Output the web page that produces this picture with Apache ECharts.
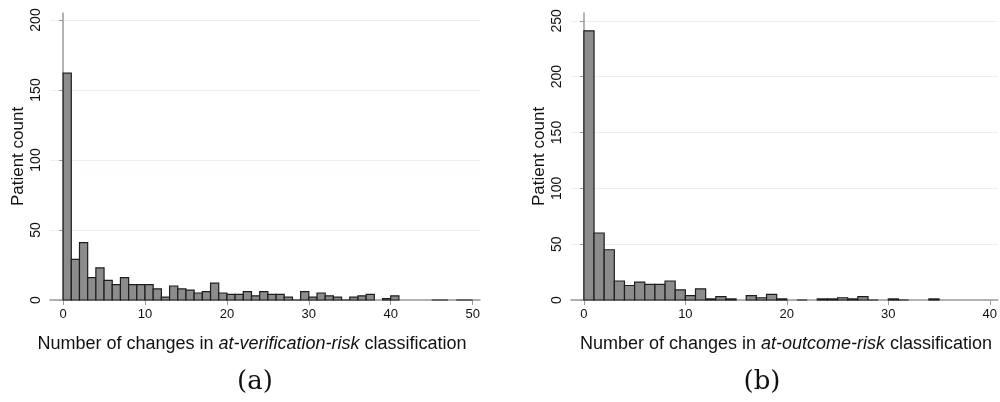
<!DOCTYPE html>
<html>
<head>
<meta charset="utf-8">
<script src="https://cdn.jsdelivr.net/npm/echarts@6/dist/echarts.min.js"></script>
<style>
  html, body { margin: 0; padding: 0; background: #fff; }
  #chart { width: 1000px; height: 402px; }
</style>
</head>
<body>
<div id="chart"></div>
<script>
// counts per number of changes (index = changes); null = no bar, 0 = empty bar outline
var verifCounts = [162, 29, 41, 16, 23, 14, 11, 16, 11, 11,
  11, 8, 2, 10, 8, 7, 5, 6, 12, 5,
  4, 4, 6, 3, 6, 4, 4, 2, 0, 6,
  2, 5, 3, 2, 0, 2, 3, 4, null, 1,
  3, null, null, null, null, 0, 0, null, 0, 0];
var outcomeCounts = [241, 60, 45, 17, 13, 16, 14, 14, 17, 9,
  4, 10, 1, 3, 1, null, 4, 2, 5, 1,
  null, 0, null, 1, 1, 2, 1, 3, 0, null,
  1, 0, null, null, 1];

var verifXTicks = [0, 10, 20, 30, 40, 50];
var outcomeXTicks = [0, 10, 20, 30, 40];
var verifYTicks = [0, 50, 100, 150, 200];
var outcomeYTicks = [0, 50, 100, 150, 200, 250];

function toBins(arr) {
  var out = [];
  arr.forEach(function (v, i) {
    if (v !== null) out.push([i, v]);
  });
  return out;
}

function renderBin(params, api) {
  var k = api.value(0);
  var p0 = api.coord([k, api.value(1)]);
  var p1 = api.coord([k + 1, 0]);
  return {
    type: 'rect',
    shape: { x: p0[0], y: p0[1], width: p1[0] - p0[0], height: p1[1] - p0[1] },
    style: { fill: '#8c8c8c', stroke: '#1e1e1e', lineWidth: 1.2 }
  };
}

var font = 'Liberation Sans, Arial, sans-serif';
var axisGray = '#9a9a9a';
var labelFont = { color: '#111', fontSize: 13, fontFamily: font };

function xAxisFor(idx, min, max, ticks) {
  return {
    type: 'value', gridIndex: idx, min: min, max: max,
    axisLine: { show: true, lineStyle: { color: axisGray, width: 1.5 } },
    axisTick: { show: true, length: 5, lineStyle: { color: axisGray }, customValues: ticks },
    axisLabel: Object.assign({ margin: 8, customValues: ticks }, labelFont),
    splitLine: { show: false }
  };
}

function yAxisFor(idx, max, ticks) {
  return {
    type: 'value', gridIndex: idx, min: 0, max: max,
    name: 'Patient count', nameLocation: 'middle', nameGap: 23, nameMoveOverlap: false,
    nameTextStyle: { color: '#111', fontSize: 17, fontFamily: font },
    axisLine: { show: true, lineStyle: { color: axisGray, width: 1.5 } },
    axisTick: { show: true, length: 4, lineStyle: { color: axisGray }, customValues: ticks },
    axisLabel: Object.assign({ margin: 7, rotate: 90, customValues: ticks }, labelFont, { fontSize: 14 }),
    splitLine: { show: true, lineStyle: { color: '#eaf1f1', width: 1 } }
  };
}

function axisTitle(x, italicPart) {
  return {
    left: x, top: 330, textAlign: 'center',
    text: '{n|Number of changes in }{i|' + italicPart + '}{n| classification}',
    textStyle: {
      fontWeight: 'normal',
      rich: {
        n: { fontSize: 18, fontWeight: 'normal', color: '#111', fontFamily: font },
        i: { fontSize: 18, fontWeight: 'normal', color: '#111', fontStyle: 'italic', fontFamily: font }
      }
    }
  };
}

function caption(x, txt) {
  return {
    left: x, top: 364, textAlign: 'center', text: txt,
    textStyle: { fontSize: 26, fontWeight: 'normal', color: '#111', fontFamily: 'DejaVu Serif, serif' }
  };
}

var chart = echarts.init(document.getElementById('chart'), null, { renderer: 'canvas' });
chart.setOption({
  animation: false,
  backgroundColor: '#fff',
  title: [
    axisTitle(247, 'at-verification-risk'),
    axisTitle(781, 'at-outcome-risk'),
    caption(250, '(a)'),
    caption(757, '(b)')
  ],
  grid: [
    { left: 50, width: 430, top: 13, height: 287 },
    { left: 571, width: 429, top: 13, height: 287 }
  ],
  xAxis: [
    xAxisFor(0, -1.6, 50.9, verifXTicks),
    xAxisFor(1, -1.27, 40.8, outcomeXTicks)
  ],
  yAxis: [
    yAxisFor(0, 205, verifYTicks),
    yAxisFor(1, 257, outcomeYTicks)
  ],
  series: [
    { type: 'custom', xAxisIndex: 0, yAxisIndex: 0, data: toBins(verifCounts), renderItem: renderBin, clip: false },
    { type: 'custom', xAxisIndex: 1, yAxisIndex: 1, data: toBins(outcomeCounts), renderItem: renderBin, clip: false }
  ]
});
</script>
</body>
</html>
